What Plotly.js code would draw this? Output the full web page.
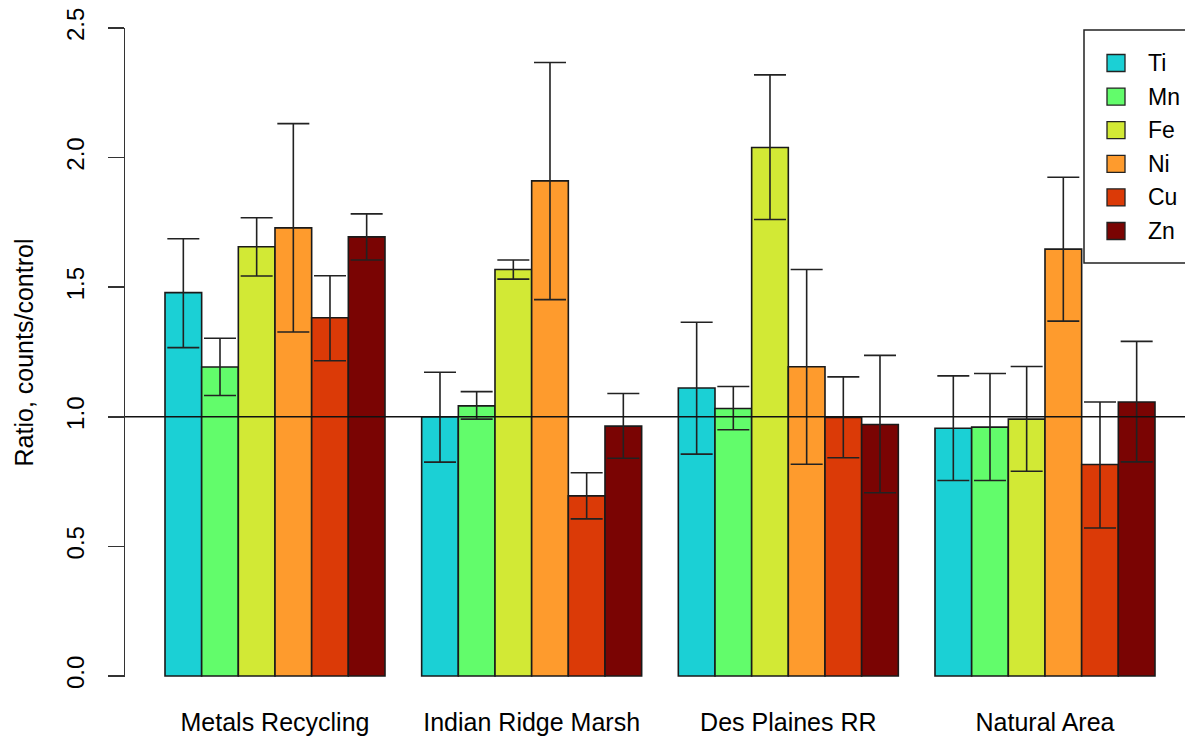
<!DOCTYPE html>
<html>
<head>
<meta charset="utf-8">
<script src="https://cdn.plot.ly/plotly-3.0.1.min.js"></script>
<style>html,body{margin:0;padding:0;background:#fff;}#chart{width:1185px;height:736px;}</style>
</head>
<body>
<div id="chart"></div>
<script>
// Sites (x categories)
const sites = ["Metals Recycling", "Indian Ridge Marsh", "Des Plaines RR", "Natural Area"];
// Elements (series)
const elements = ["Ti", "Mn", "Fe", "Ni", "Cu", "Zn"];
const colors = ["#1BD0D5", "#62FC6B", "#D2E935", "#FE9B2D", "#DB3A07", "#7A0403"];

// Ratio values per element, one per site
const Ti = [1.479, 1.000, 1.111, 0.956];
const Mn = [1.192, 1.042, 1.032, 0.960];
const Fe = [1.656, 1.568, 2.039, 0.991];
const Ni = [1.729, 1.910, 1.193, 1.647];
const Cu = [1.382, 0.695, 0.997, 0.816];
const Zn = [1.694, 0.964, 0.970, 1.057];

// Error bar upper ends
const TiHi = [1.687, 1.172, 1.365, 1.158];
const MnHi = [1.303, 1.097, 1.117, 1.167];
const FeHi = [1.768, 1.605, 2.319, 1.194];
const NiHi = [2.131, 2.367, 1.568, 1.924];
const CuHi = [1.544, 0.784, 1.154, 1.057];
const ZnHi = [1.783, 1.090, 1.237, 1.291];

// Error bar lower ends
const TiLo = [1.267, 0.825, 0.856, 0.754];
const MnLo = [1.082, 0.991, 0.950, 0.754];
const FeLo = [1.543, 1.531, 1.761, 0.790];
const NiLo = [1.327, 1.452, 0.817, 1.369];
const CuLo = [1.216, 0.606, 0.842, 0.571];
const ZnLo = [1.605, 0.840, 0.707, 0.826];

const yTicks = [0, 0.5, 1.0, 1.5, 2.0, 2.5];

const values = [Ti, Mn, Fe, Ni, Cu, Zn];
const highs = [TiHi, MnHi, FeHi, NiHi, CuHi, ZnHi];
const lows = [TiLo, MnLo, FeLo, NiLo, CuLo, ZnLo];

const font = "Liberation Sans, Arial, Helvetica, sans-serif";

const W = 1185, H = 736;
const M = { l: 125, r: 0, t: 28, b: 59 };
const plotW = W - M.l - M.r, plotH = H - M.t - M.b;
const px2x = px => (px - M.l) / plotW;
const px2y = py => (H - M.b - py) / plotH;

const traces = elements.map((el, i) => ({
  type: "bar",
  name: el,
  x: sites,
  y: values[i],
  showlegend: false,
  marker: { color: colors[i], line: { color: "#1a1a1a", width: 1.6 } },
  error_y: {
    type: "data",
    symmetric: false,
    array: values[i].map((v, j) => highs[i][j] - v),
    arrayminus: values[i].map((v, j) => v - lows[i][j]),
    color: "#222",
    thickness: 1.6,
    width: 16
  },
  hoverinfo: "x+y+name"
}));

// Legend box (R-style, top right, running off the right edge)
const shapes = [{
  type: "line",
  xref: "paper", x0: 0, x1: 1,
  yref: "y", y0: 1, y1: 1,
  line: { color: "#111", width: 1.5 },
  layer: "above"
}, {
  type: "rect",
  xref: "paper", yref: "paper",
  x0: px2x(1084), x1: px2x(1200),
  y0: px2y(263), y1: px2y(30),
  fillcolor: "#fff",
  line: { color: "#222", width: 1.5 },
  layer: "above"
}];
const annotations = [];
const rowY0 = 63, rowStep = 33.6;
elements.forEach((el, i) => {
  const cy = rowY0 + i * rowStep;
  shapes.push({
    type: "rect", xref: "paper", yref: "paper",
    x0: px2x(1107), x1: px2x(1125),
    y0: px2y(cy + 8.5), y1: px2y(cy - 8.5),
    fillcolor: colors[i],
    line: { color: "#222", width: 1.3 },
    layer: "above"
  });
  annotations.push({
    xref: "paper", yref: "paper",
    x: px2x(1146), y: px2y(cy),
    xanchor: "left", yanchor: "middle",
    text: el, showarrow: false,
    font: { size: 23, family: font, color: "#000" }
  });
});

const layout = {
  width: W,
  height: H,
  paper_bgcolor: "#fff",
  plot_bgcolor: "#fff",
  margin: { l: M.l, r: M.r, t: M.t, b: M.b, pad: 0 },
  barmode: "group",
  bargap: 1 / 7,
  bargroupgap: 0,
  showlegend: false,
  font: { family: font, color: "#000", size: 24 },
  xaxis: {
    type: "category",
    range: [-0.5844, 3.5455],
    showline: false,
    showgrid: false,
    zeroline: false,
    ticks: "",
    ticklabelstandoff: 28,
    tickfont: { size: 25, family: font, color: "#000" }
  },
  yaxis: {
    range: [-0.004, 2.5],
    tickvals: yTicks,
    ticktext: yTicks.map(v => v.toFixed(1)),
    tickangle: -90,
    ticks: "outside",
    ticklen: 16,
    tickwidth: 1.5,
    tickcolor: "#333",
    showline: true,
    linecolor: "#333",
    linewidth: 1.5,
    showgrid: false,
    zeroline: false,
    ticklabelstandoff: 14,
    tickfont: { size: 24, family: font, color: "#000" },
    title: { text: "Ratio, counts/control", font: { size: 25, family: font, color: "#000" }, standoff: 21 }
  },
  shapes: shapes,
  annotations: annotations
};

Plotly.newPlot("chart", traces, layout, { displayModeBar: false, staticPlot: true });
</script>
</body>
</html>
